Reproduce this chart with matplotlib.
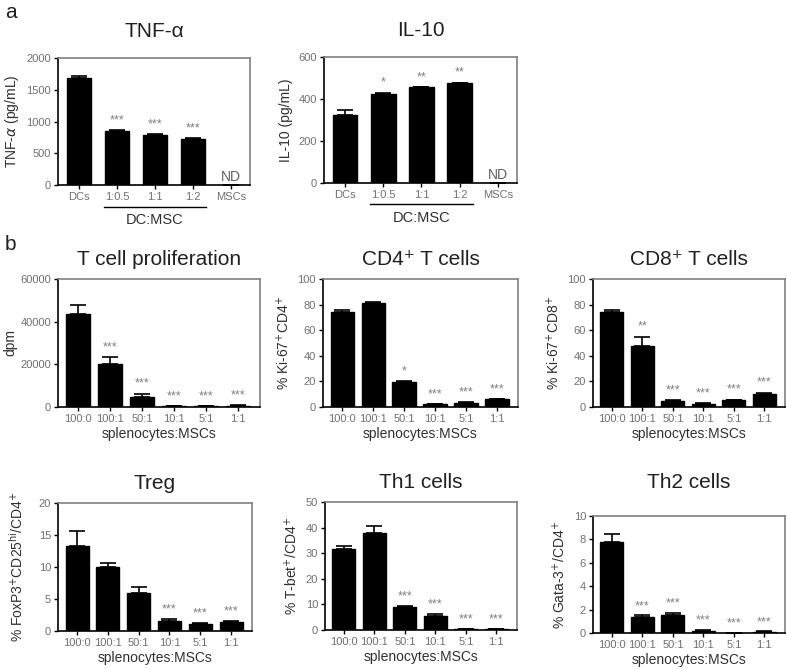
import matplotlib
matplotlib.use("Agg")
import matplotlib.pyplot as plt
import numpy as np

plt.rcParams['font.family'] = ['Liberation Sans', 'DejaVu Sans']

# ---------------- data ----------------
dc_labels = ["DCs", "1:0.5", "1:1", "1:2", "MSCs"]
tnf_vals = [1690, 850, 790, 725, 0]
tnf_err = [30, 15, 15, 15, 0]
tnf_stars = ["", "***", "***", "***", ""]

il10_vals = [325, 425, 455, 475, 0]
il10_err = [25, 5, 3, 3, 0]
il10_stars = ["", "*", "**", "**", ""]

ratio_labels = ["100:0", "100:1", "50:1", "10:1", "5:1", "1:1"]

tprol_vals = [43500, 20000, 4500, 300, 300, 600]
tprol_err = [4500, 3500, 1800, 100, 100, 150]
tprol_stars = ["", "***", "***", "***", "***", "***"]

cd4_vals = [74, 81, 19.5, 2, 3.5, 6]
cd4_err = [2, 1, 0.5, 0.3, 0.3, 0.3]
cd4_stars = ["", "", "*", "***", "***", "***"]

cd8_vals = [74, 48, 4.5, 2.5, 5.5, 10.5]
cd8_err = [2, 7, 0.8, 0.3, 0.3, 0.8]
cd8_stars = ["", "**", "***", "***", "***", "***"]

treg_vals = [13.3, 10.0, 6.0, 1.6, 1.1, 1.4]
treg_err = [2.3, 0.6, 0.8, 0.3, 0.15, 0.15]
treg_stars = ["", "", "", "***", "***", "***"]

th1_vals = [31.5, 38, 9, 5.5, 0.3, 0.3]
th1_err = [1.5, 2.5, 0.3, 0.8, 0.05, 0.05]
th1_stars = ["", "", "***", "***", "***", "***"]

th2_vals = [7.8, 1.4, 1.5, 0.2, 0.02, 0.1]
th2_err = [0.7, 0.1, 0.2, 0.05, 0.01, 0.03]
th2_stars = ["", "***", "***", "***", "***", "***"]

W, H = 787, 669
fig = plt.figure(figsize=(W / 100, H / 100), dpi=100)

TICKC = '#707070'
LABC = '#303030'


def make_ax(l, t, r, b):
    return fig.add_axes([l / W, 1 - b / H, (r - l) / W, (b - t) / H])


def panel(box, labels, vals, errs, stars, ymax, yticks, ylabel, title,
          xlim, width, xlabel=None, nd=False, tpad=10, ylpad=4):
    ax = make_ax(*box)
    x = np.arange(len(labels))
    ax.bar(x, vals, width=width, color='black', edgecolor='black', zorder=2)
    ax.errorbar(x, vals, yerr=[np.zeros(len(errs)), errs], fmt='none',
                ecolor='black', elinewidth=1.2, capsize=6, capthick=1.2, zorder=3)
    for xi, v, e, s in zip(x, vals, errs, stars):
        if s:
            ax.text(xi, v + e + ymax * 0.03, s, ha='center', va='bottom',
                    fontsize=9, color='#808080')
    if nd:
        ax.text(x[-1], ymax * 0.01, "ND", ha='center', va='bottom',
                fontsize=10, color='#606060')
    ax.set_xlim(*xlim)
    ax.set_ylim(0, ymax)
    ax.set_yticks(yticks)
    ax.set_xticks(x)
    ax.set_xticklabels(labels)
    ax.tick_params(axis='both', direction='out', length=3, width=1,
                   colors='black', labelcolor=TICKC, labelsize=8, pad=2)
    for sp in ['left', 'bottom']:
        ax.spines[sp].set_color('black')
        ax.spines[sp].set_linewidth(1.2)
    for sp in ['top', 'right']:
        ax.spines[sp].set_color('#808080')
        ax.spines[sp].set_linewidth(1.2)
    ax.set_ylabel(ylabel, fontsize=10, color=LABC, labelpad=ylpad)
    if xlabel:
        ax.set_xlabel(xlabel, fontsize=10, color=LABC, labelpad=2)
    ax.set_title(title, fontsize=15, color='#202020', pad=tpad)
    return ax


# Panel a
ax1 = panel((58, 58, 250, 185), dc_labels, tnf_vals, tnf_err, tnf_stars, 2000,
            [0, 500, 1000, 1500, 2000], "TNF-$\\alpha$ (pg/mL)", "TNF-α",
            (-0.55, 4.5), 0.65, nd=True, tpad=15)
ax2 = panel((324, 57, 517, 183), dc_labels, il10_vals, il10_err, il10_stars, 600,
            [0, 200, 400, 600], "IL-10 (pg/mL)", "IL-10",
            (-0.55, 4.5), 0.65, nd=True, tpad=15)

for ax in (ax1, ax2):
    ax.plot([0.65, 3.35], [-0.17, -0.17], transform=ax.get_xaxis_transform(),
            color='black', lw=1, clip_on=False)
    ax.text(2, -0.22, "DC:MSC", transform=ax.get_xaxis_transform(),
            ha='center', va='top', fontsize=10.5, color=LABC)

# Panel b
bx = (-0.62, 5.68)
bw = 0.75
panel((58, 279, 260, 407), ratio_labels, tprol_vals, tprol_err, tprol_stars, 60000,
      [0, 20000, 40000, 60000], "dpm", "T cell proliferation", bx, bw,
      xlabel="splenocytes:MSCs", ylpad=2)
panel((323, 279, 518, 407), ratio_labels, cd4_vals, cd4_err, cd4_stars, 100,
      [0, 20, 40, 60, 80, 100], "% Ki-67$^{+}$CD4$^{+}$", "CD4⁺ T cells", bx, bw,
      xlabel="splenocytes:MSCs")
panel((593, 279, 785, 407), ratio_labels, cd8_vals, cd8_err, cd8_stars, 100,
      [0, 20, 40, 60, 80, 100], "% Ki-67$^{+}$CD8$^{+}$", "CD8⁺ T cells", bx, bw,
      xlabel="splenocytes:MSCs")
panel((58, 503, 252, 631), ratio_labels, treg_vals, treg_err, treg_stars, 20,
      [0, 5, 10, 15, 20], "% FoxP3$^{+}$CD25$^{\\mathrm{hi}}$/CD4$^{+}$", "Treg", bx, bw,
      xlabel="splenocytes:MSCs", ylpad=9)
panel((325, 502, 517, 630), ratio_labels, th1_vals, th1_err, th1_stars, 50,
      [0, 10, 20, 30, 40, 50], "% T-bet$^{+}$/CD4$^{+}$", "Th1 cells", bx, bw,
      xlabel="splenocytes:MSCs")
panel((593, 516, 785, 633), ratio_labels, th2_vals, th2_err, th2_stars, 10,
      [0, 2, 4, 6, 8, 10], "% Gata-3$^{+}$/CD4$^{+}$", "Th2 cells", bx, bw,
      xlabel="splenocytes:MSCs", tpad=20)

fig.text(5 / W, 1 - 12 / H, "a", fontsize=15, color='#202020', va='center')
fig.text(5 / W, 1 - 244 / H, "b", fontsize=15, color='#202020', va='center')

fig.savefig("out.png", dpi=100)
